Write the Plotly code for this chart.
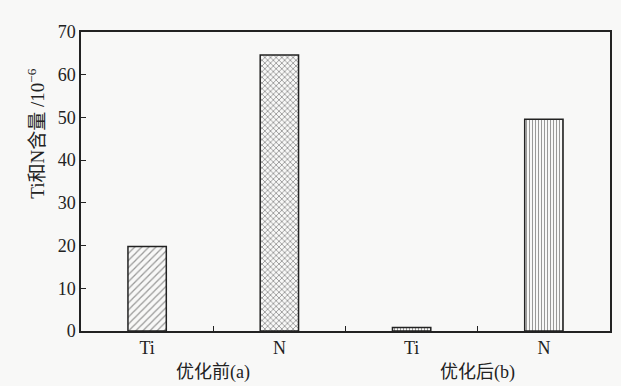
import plotly.graph_objects as go

# Ti and N content (×10^-6) before and after optimisation
elements = ["Ti", "N", "Ti", "N"]
values = [19.8, 64.6, 0.8, 49.6]
patterns = ["/", "x", "|", "|"]
group_labels = ["优化前(a)", "优化后(b)"]
y_ticks = [0, 10, 20, 30, 40, 50, 60, 70]
y_title = "Ti和N含量 /10<sup>−6</sup>"

FONT = "Liberation Serif, Times New Roman, Noto Sans CJK SC, serif"
INK = "#222222"
BG = "#f8f8f7"

x_pos = list(range(len(elements)))

fig = go.Figure()
fig.add_trace(go.Bar(
    x=x_pos,
    y=values,
    width=0.29,
    marker=dict(
        color=BG,
        line=dict(color=INK, width=1.5),
        pattern=dict(shape=patterns, fgcolor="#3a3a3a", bgcolor=BG,
                     size=[5, 4, 3, 3], solidity=[0.25, 0.4, 0.35, 0.35]),
    ),
    showlegend=False,
))

# Group captions centred under each pair of bars
for i, label in enumerate(group_labels):
    fig.add_annotation(
        x=2 * i + 0.5, y=0, xref="x", yref="paper",
        yshift=-41, yanchor="middle", text=label, showarrow=False,
        font=dict(family=FONT, size=18, color=INK),
    )

# Rotated y-axis caption
fig.add_annotation(
    x=0, y=0.66, xref="paper", yref="paper", xshift=-45,
    xanchor="center", yanchor="middle", textangle=-90,
    text=y_title, showarrow=False,
    font=dict(family=FONT, size=19, color=INK),
)

fig.update_layout(
    width=621, height=386,
    margin=dict(l=81, r=9, t=32, b=55),
    paper_bgcolor=BG, plot_bgcolor=BG,
    font=dict(family=FONT, size=18, color=INK),
    xaxis=dict(
        range=[-0.5, 3.5],
        tickvals=x_pos, ticktext=elements,
        ticks="", showgrid=False, zeroline=False,
        showline=True, mirror=True, linecolor=INK, linewidth=1.5,
        minor=dict(tickvals=[0.5, 1.5, 2.5], ticks="inside", ticklen=5,
                   tickcolor=INK, tickwidth=1, showgrid=False),
    ),
    yaxis=dict(
        range=[0, 70], tickvals=y_ticks,
        ticks="inside", ticklen=5, tickcolor=INK, tickwidth=1,
        showgrid=False, zeroline=False,
        showline=True, mirror=True, linecolor=INK, linewidth=1.5,
    ),
)

fig.write_html("out.html")
